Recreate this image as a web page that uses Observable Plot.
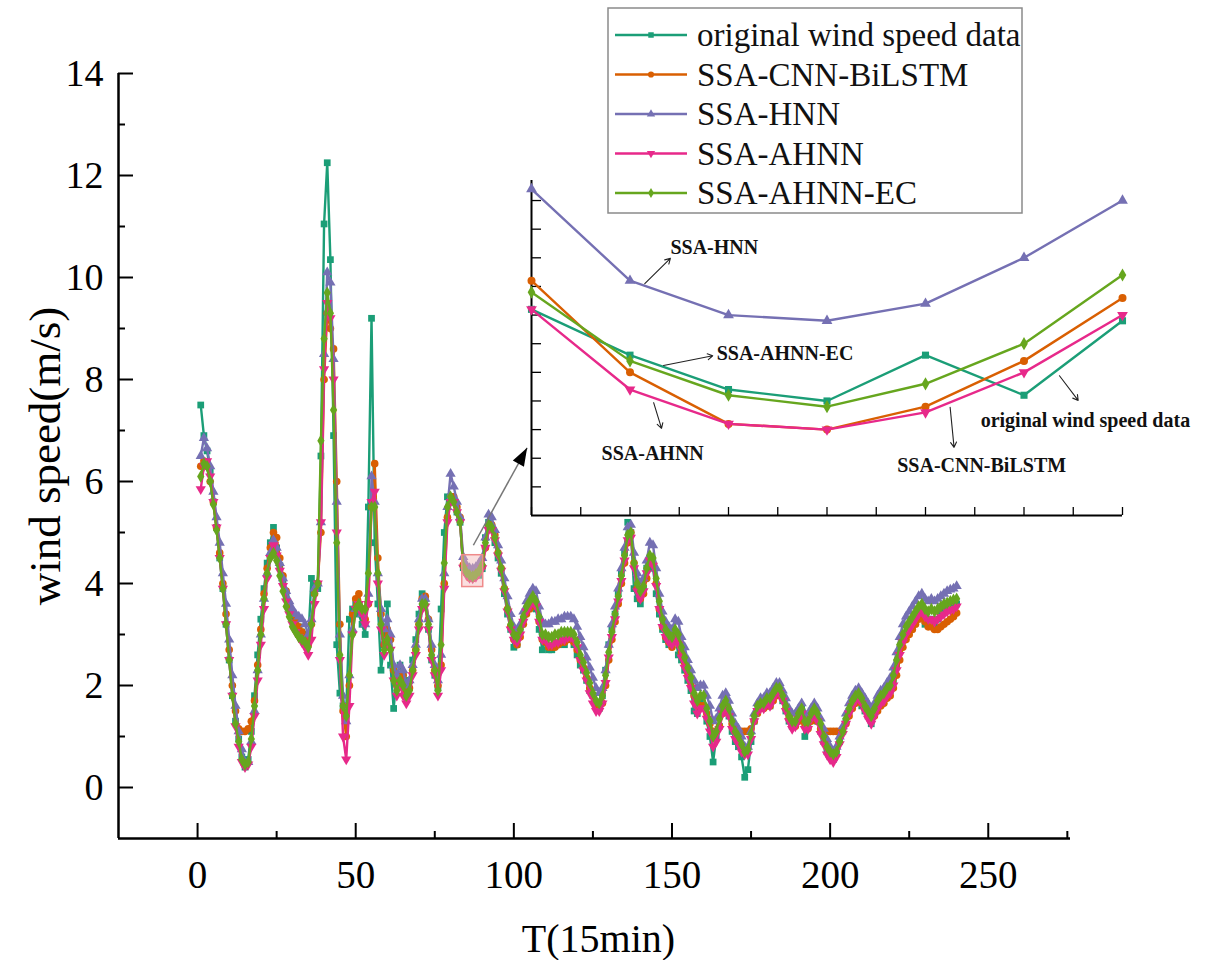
<!DOCTYPE html>
<html><head><meta charset="utf-8">
<script src="https://cdn.jsdelivr.net/npm/d3@7"></script>
<script src="https://cdn.jsdelivr.net/npm/@observablehq/plot@0.6"></script>
<style>
body{margin:0;background:#fff;}
#wrap{position:relative;width:1205px;height:960px;font-family:"Liberation Serif","Times New Roman",serif;}
#main,#inset,#legend{position:absolute;}
#main{left:0;top:0;}
#inset{left:521px;top:170px;}
#legend{left:607px;top:7px;}
</style></head><body>
<div id="wrap"><div id="main"></div><div id="inset"></div><div id="legend"></div></div>
<script>
const T = d3.range(1, 241);
const seriesNames = ["original wind speed data","SSA-CNN-BiLSTM","SSA-HNN","SSA-AHNN","SSA-AHNN-EC"];
const original = [
7.50,6.90,6.60,6.20,5.60,5.10,4.50,3.90,3.20,2.50,
1.80,1.30,0.95,0.60,0.40,0.55,1.10,1.80,2.60,3.30,
3.90,4.40,4.80,5.10,4.70,4.35,4.05,3.75,3.55,3.35,
3.25,3.15,3.05,3.00,2.90,4.10,4.00,3.90,6.50,11.05,
12.25,10.35,6.90,2.80,1.85,1.60,1.50,3.30,3.50,3.60,
3.40,3.20,3.00,5.50,9.20,4.80,3.60,2.30,2.80,3.60,
2.40,1.55,2.20,2.40,2.20,1.90,2.10,2.50,2.90,3.40,
3.80,3.70,3.10,2.50,2.20,1.95,3.50,5.00,5.70,5.70,
5.60,5.40,5.20,4.31,4.23,4.17,4.15,4.23,4.16,4.29,
4.90,5.20,5.10,4.80,4.50,4.20,3.80,3.40,3.10,2.75,
2.80,3.10,3.30,3.50,3.60,3.70,3.50,3.10,2.70,2.90,
2.70,2.70,2.80,2.80,2.90,2.80,2.90,2.90,2.80,2.60,
2.40,2.30,2.10,1.90,1.80,1.60,1.55,1.80,2.30,2.80,
3.10,3.40,3.80,4.20,4.60,5.20,5.00,3.90,3.70,3.60,
3.90,4.30,4.50,4.30,3.80,3.40,3.10,2.90,2.80,2.80,
3.00,2.60,2.50,2.30,2.10,1.90,1.50,1.45,1.70,1.60,
1.30,1.00,0.50,1.00,1.20,1.50,1.60,1.40,1.10,0.90,
0.80,0.60,0.20,0.35,0.90,1.30,1.50,1.60,1.60,1.70,
1.60,1.80,1.95,1.90,1.70,1.50,1.30,1.20,1.30,1.50,
1.55,1.00,1.20,1.50,1.55,1.30,1.10,0.90,0.70,0.60,
0.55,0.70,0.90,1.10,1.30,1.50,1.60,1.70,1.75,1.60,
1.50,1.40,1.25,1.50,1.60,1.70,1.75,1.85,1.90,2.10,
2.40,2.70,2.90,3.00,3.10,3.20,3.30,3.40,3.40,3.20,
3.30,3.30,3.20,3.30,3.40,3.45,3.50,3.50,3.55,3.60];
const cnnBiLSTM = [
6.30,6.40,6.30,6.00,5.60,5.10,4.60,4.00,3.40,2.70,
2.00,1.50,1.15,1.10,1.10,1.15,1.30,1.70,2.40,3.10,
3.80,4.30,4.70,5.00,4.90,4.50,4.15,3.85,3.60,3.40,
3.25,3.15,3.05,2.95,2.80,3.20,3.80,4.00,5.00,8.00,
9.30,9.00,8.60,6.00,3.20,1.50,1.00,2.00,3.40,3.70,
3.80,3.50,3.30,3.60,5.50,6.35,4.50,3.40,2.80,3.10,
2.90,2.30,2.00,2.20,2.20,1.90,1.95,2.30,2.70,3.20,
3.70,3.75,3.30,2.70,2.30,2.00,2.40,4.00,5.30,5.70,
5.70,5.50,5.30,4.36,4.20,4.11,4.10,4.14,4.22,4.33,
4.70,5.10,5.15,4.95,4.60,4.30,3.90,3.50,3.15,2.90,
2.80,2.95,3.20,3.40,3.50,3.60,3.55,3.25,2.90,2.85,
2.75,2.75,2.75,2.80,2.85,2.85,2.90,2.90,2.85,2.70,
2.50,2.35,2.15,1.95,1.80,1.60,1.55,1.65,2.00,2.50,
2.90,3.25,3.60,4.00,4.40,4.80,5.00,4.40,3.90,3.70,
3.80,4.10,4.40,4.40,4.00,3.50,3.15,2.95,2.85,2.75,
2.90,2.85,2.65,2.45,2.25,2.05,1.80,1.60,1.60,1.60,
1.45,1.25,1.10,1.10,1.20,1.45,1.55,1.45,1.25,1.10,
1.10,1.10,1.10,1.10,1.15,1.30,1.45,1.55,1.55,1.60,
1.60,1.70,1.80,1.85,1.75,1.55,1.35,1.20,1.20,1.30,
1.40,1.25,1.15,1.30,1.40,1.30,1.15,1.10,1.10,1.10,
1.10,1.10,1.10,1.15,1.25,1.40,1.55,1.65,1.70,1.65,
1.55,1.45,1.35,1.40,1.50,1.60,1.65,1.75,1.80,1.95,
2.20,2.50,2.75,2.90,3.00,3.10,3.20,3.30,3.35,3.25,
3.15,3.15,3.10,3.10,3.15,3.20,3.25,3.30,3.35,3.42];
const hnn = [
6.50,6.85,6.65,6.30,5.80,5.30,4.80,4.20,3.60,2.90,
2.20,1.60,1.10,0.75,0.50,0.50,0.90,1.50,2.30,3.00,
3.70,4.20,4.60,4.85,4.70,4.40,4.10,3.85,3.65,3.50,
3.40,3.35,3.30,3.20,3.00,3.30,3.90,4.00,5.20,8.50,
10.10,9.90,8.40,5.60,3.00,1.80,1.30,2.20,3.10,3.50,
3.60,3.40,3.20,3.80,6.10,5.60,4.20,3.50,3.10,3.30,
3.00,2.40,2.20,2.40,2.30,2.00,2.10,2.40,2.80,3.30,
3.70,3.70,3.30,2.80,2.40,2.10,2.60,4.20,5.50,6.15,
5.90,5.60,5.30,4.52,4.36,4.30,4.29,4.32,4.40,4.50,
4.90,5.35,5.30,5.05,4.75,4.45,4.10,3.75,3.40,3.15,
3.05,3.20,3.45,3.65,3.80,3.90,3.85,3.55,3.25,3.20,
3.20,3.25,3.25,3.30,3.30,3.35,3.35,3.35,3.30,3.15,
2.95,2.75,2.55,2.35,2.15,1.95,1.85,1.95,2.30,2.80,
3.20,3.55,3.90,4.30,4.70,5.10,5.15,4.60,4.20,4.00,
4.10,4.45,4.80,4.75,4.30,3.80,3.45,3.25,3.15,3.10,
3.30,3.25,2.95,2.75,2.50,2.30,2.10,1.95,2.00,2.00,
1.80,1.60,1.30,1.35,1.55,1.80,1.85,1.70,1.45,1.25,
1.15,1.00,0.80,0.80,1.10,1.45,1.65,1.75,1.75,1.85,
1.85,1.95,2.05,2.05,1.90,1.75,1.55,1.45,1.45,1.55,
1.65,1.45,1.40,1.55,1.65,1.55,1.35,1.15,0.95,0.80,
0.70,0.80,1.00,1.20,1.45,1.65,1.80,1.90,1.95,1.85,
1.75,1.65,1.55,1.65,1.80,1.90,1.95,2.05,2.15,2.35,
2.65,2.95,3.20,3.35,3.45,3.55,3.65,3.75,3.80,3.70,
3.65,3.70,3.65,3.70,3.75,3.80,3.85,3.88,3.90,3.95];
const ahnn = [
5.85,6.30,6.40,6.10,5.60,5.10,4.50,3.90,3.20,2.50,
1.80,1.20,0.80,0.50,0.40,0.45,0.80,1.40,2.10,2.80,
3.50,4.10,4.50,4.75,4.55,4.25,3.95,3.65,3.40,3.20,
3.05,2.95,2.85,2.75,2.60,2.90,3.60,4.00,5.20,8.20,
9.50,9.20,8.00,5.00,2.50,1.00,0.55,1.60,3.00,3.50,
3.60,3.40,3.20,3.60,5.60,5.80,4.00,3.10,2.60,2.90,
2.70,2.10,1.80,2.00,1.80,1.65,1.80,2.20,2.60,3.10,
3.50,3.55,3.10,2.50,2.20,1.80,2.30,3.90,5.20,5.60,
5.60,5.40,5.20,4.31,4.17,4.11,4.10,4.13,4.20,4.30,
4.70,5.05,5.05,4.85,4.55,4.25,3.85,3.45,3.10,2.90,
2.85,3.00,3.25,3.45,3.55,3.65,3.55,3.25,2.90,2.90,
2.80,2.80,2.85,2.85,2.90,2.90,2.95,2.95,2.90,2.75,
2.50,2.30,2.10,1.85,1.65,1.50,1.50,1.65,2.05,2.55,
2.95,3.30,3.65,4.05,4.45,4.85,4.90,4.30,3.85,3.70,
3.85,4.20,4.45,4.35,3.95,3.50,3.15,2.95,2.85,2.80,
2.95,2.80,2.55,2.35,2.15,1.95,1.65,1.45,1.55,1.55,
1.35,1.10,0.80,0.90,1.15,1.45,1.55,1.40,1.15,0.95,
0.85,0.70,0.65,0.65,0.95,1.30,1.50,1.55,1.55,1.65,
1.60,1.75,1.85,1.85,1.70,1.50,1.30,1.15,1.20,1.35,
1.45,1.15,1.15,1.35,1.45,1.30,1.05,0.85,0.65,0.55,
0.50,0.60,0.85,1.05,1.25,1.45,1.60,1.70,1.75,1.65,
1.50,1.35,1.25,1.40,1.55,1.65,1.70,1.80,1.85,2.00,
2.30,2.60,2.85,3.00,3.10,3.20,3.30,3.40,3.45,3.35,
3.30,3.30,3.25,3.30,3.35,3.40,3.45,3.48,3.50,3.55];
const ahnnEC = [
6.10,6.35,6.30,6.00,5.55,5.05,4.50,3.90,3.20,2.50,
1.80,1.25,0.90,0.55,0.45,0.50,0.95,1.60,2.30,3.00,
3.70,4.20,4.50,4.60,4.45,4.15,3.85,3.55,3.35,3.15,
3.05,2.95,2.90,2.85,2.75,3.20,3.80,4.00,6.80,8.80,
9.70,9.30,7.40,4.80,2.60,1.60,1.40,2.20,3.00,3.50,
3.60,3.50,3.50,4.20,5.50,5.50,4.20,3.20,2.70,2.90,
2.70,2.10,1.90,2.10,2.00,1.80,1.90,2.30,2.70,3.20,
3.60,3.60,3.20,2.60,2.30,1.90,2.80,4.40,5.50,5.70,
5.60,5.40,5.20,4.34,4.22,4.16,4.14,4.18,4.25,4.37,
4.80,5.15,5.10,4.90,4.60,4.30,3.90,3.50,3.20,3.00,
2.95,3.10,3.35,3.55,3.65,3.75,3.65,3.35,3.00,3.00,
2.95,2.95,3.00,3.00,3.05,3.05,3.05,3.05,3.00,2.85,
2.60,2.45,2.25,2.05,1.85,1.70,1.65,1.80,2.20,2.65,
3.05,3.40,3.75,4.15,4.55,4.95,5.00,4.40,4.00,3.85,
3.95,4.30,4.55,4.50,4.10,3.65,3.30,3.10,3.00,2.95,
3.10,3.00,2.75,2.55,2.35,2.15,1.85,1.70,1.80,1.80,
1.55,1.30,1.00,1.10,1.35,1.60,1.70,1.55,1.30,1.10,
1.00,0.85,0.70,0.75,1.05,1.40,1.60,1.65,1.65,1.75,
1.75,1.85,1.95,1.95,1.80,1.60,1.40,1.30,1.30,1.45,
1.55,1.30,1.30,1.45,1.55,1.45,1.25,1.00,0.80,0.70,
0.65,0.70,0.90,1.10,1.35,1.55,1.70,1.80,1.85,1.75,
1.60,1.50,1.40,1.55,1.70,1.80,1.85,1.95,2.00,2.20,
2.50,2.80,3.00,3.15,3.25,3.35,3.45,3.55,3.60,3.50,
3.45,3.50,3.45,3.50,3.55,3.60,3.62,3.65,3.68,3.70];
const seriesValues = [original, cnnBiLSTM, hnn, ahnn, ahnnEC];
const colors = ["#1b9e77","#d95f02","#7570b3","#e7298a","#66a61e"];
const symbols = ["square","circle","triangle","triangle","diamond"];
const rotations = [0,0,0,180,0];

const xMajor = [0,50,100,150,200,250];
const xMinor = [25,75,125,175,225,275];
const yMajor = [0,2,4,6,8,10,12,14];
const yMinor = [1,3,5,7,9,11,13];
const zoomBox = [{x1:84, x2:90, y1:3.95, y2:4.535}];
const pointer = [{x1:87.2, y1:4.75, x2:104.2, y2:6.66}];

const insetXTicks = [84,84.5,85,85.5,86,86.5,87,87.5,88,88.5,89,89.5,90];
const insetYTicks = [4.00,4.05,4.10,4.15,4.20,4.25,4.30,4.35,4.40,4.45,4.50];
const notes = [
  {label:"SSA-HNN", ax1:85.15, ay1:4.355, ax2:85.41, ay2:4.399, tx:85.41, ty:4.418, anchor:"start"},
  {label:"SSA-AHNN-EC", ax1:85.34, ay1:4.212, ax2:85.84, ay2:4.229, tx:85.88, ty:4.233, anchor:"start"},
  {label:"SSA-AHNN", ax1:85.24, ay1:4.147, ax2:85.32, ay2:4.102, tx:85.23, ty:4.058, anchor:"middle"},
  {label:"SSA-CNN-BiLSTM", ax1:88.25, ay1:4.139, ax2:88.29, ay2:4.069, tx:88.57, ty:4.037, anchor:"middle"},
  {label:"original wind speed data", ax1:89.36, ay1:4.194, ax2:89.55, ay2:4.151, tx:88.56, ty:4.116, anchor:"start"}
];

const rows = seriesNames.map((s, k) => T.map((t, i) => ({T: t, v: seriesValues[k][i], series: s})));
const FONT = "'Liberation Serif', 'Times New Roman', serif";

// elongated arrowhead with its tip at the anchor point (pointing up before rotation)
const arrowHead = {draw(context, size) {
  const s = Math.sqrt(size);
  context.moveTo(0, 0);
  context.lineTo(0.6 * s, 1.7 * s);
  context.lineTo(-0.6 * s, 1.7 * s);
  context.closePath();
}};

// main chart
const W = 1205, H = 960, mL = 118, mR = 135, mT = 73, mB = 122;
const innerW = W - mL - mR, innerH = H - mT - mB;
const seriesMarks = rows.flatMap((r, k) => [
  Plot.line(r, {x: "T", y: "v", stroke: colors[k], strokeWidth: 2.4}),
  Plot.dot(r, {x: "T", y: "v", fill: colors[k], symbol: symbols[k], r: 3.8, rotate: rotations[k]})
]);
const main = Plot.plot({
  width: W, height: H, marginLeft: mL, marginRight: mR, marginTop: mT, marginBottom: mB,
  x: {domain: [-25, 276]}, y: {domain: [-1, 14]},
  style: {fontFamily: FONT, background: "transparent", color: "#000"},
  marks: [
    Plot.axisX({ticks: xMajor, tickSize: 0, tickPadding: 22, fontSize: 39, label: null}),
    Plot.axisY({ticks: yMajor, tickSize: 0, tickPadding: 15, fontSize: 38, label: null}),
    Plot.ruleX(xMajor, {strokeWidth: 2, insetTop: innerH - 15}),
    Plot.ruleX(xMinor, {strokeWidth: 2, insetTop: innerH - 7}),
    Plot.ruleY(yMajor, {strokeWidth: 2, insetRight: innerW - 15}),
    Plot.ruleY(yMinor, {strokeWidth: 2, insetRight: innerW - 7}),
    ...seriesMarks,
    Plot.rect(zoomBox, {x1: "x1", x2: "x2", y1: "y1", y2: "y2", fill: "#f4b8b8", fillOpacity: 0.45, stroke: "#ef8a8a", strokeWidth: 1.5, inset: -1}),
    Plot.link(pointer, {x1: "x1", y1: "y1", x2: "x2", y2: "y2", stroke: "#777", strokeWidth: 1.5}),
    Plot.dot(pointer, {x: "x2", y: "y2", symbol: arrowHead, r: 6, fill: "#000", stroke: "none", rotate: 29}),
    Plot.ruleX([-25], {strokeWidth: 2.5}),
    Plot.ruleY([-1], {strokeWidth: 2.5}),
    Plot.text(["wind speed(m/s)"], {text: d => d, frameAnchor: "left", dx: -73, rotate: -90, fontSize: 45, textAnchor: "middle", lineAnchor: "middle"}),
    Plot.text(["T(15min)"], {text: d => d, frameAnchor: "bottom", dx: 4, dy: 101, fontSize: 40, textAnchor: "middle", lineAnchor: "middle"})
  ]
});
document.getElementById("main").append(main);

// inset
const iW = 611, iH = 355, iM = 10;
const iInnerW = iW - 2 * iM, iInnerH = iH - 2 * iM;
const insetRows = rows.map(r => r.filter(d => d.T >= 84 && d.T <= 90));
const insetSeries = insetRows.flatMap((r, k) => [
  Plot.line(r, {x: "T", y: "v", stroke: colors[k], strokeWidth: 2.4}),
  Plot.dot(r, {x: "T", y: "v", fill: colors[k], symbol: symbols[k], r: 4, rotate: rotations[k]})
]);
const inset = Plot.plot({
  width: iW, height: iH, margin: iM,
  x: {domain: [84, 90], axis: null}, y: {domain: [3.95, 4.535], axis: null},
  style: {fontFamily: FONT, background: "transparent", color: "#000", overflow: "visible"},
  marks: [
    Plot.ruleX([84], {strokeWidth: 2}),
    Plot.ruleY([3.95], {strokeWidth: 2}),
    Plot.ruleX(insetXTicks, {strokeWidth: 1.3, insetTop: iInnerH - 8}),
    Plot.ruleY(insetYTicks, {strokeWidth: 1.3, insetRight: iInnerW - 10}),
    ...insetSeries,
    Plot.arrow(notes, {x1: "ax1", y1: "ay1", x2: "ax2", y2: "ay2", stroke: "#222", strokeWidth: 1.1, headLength: 8}),
    Plot.text(notes.filter(d => d.anchor === "start"), {x: "tx", y: "ty", text: "label", textAnchor: "start", fontSize: 20, fontWeight: "bold", fill: "#111"}),
    Plot.text(notes.filter(d => d.anchor === "middle"), {x: "tx", y: "ty", text: "label", textAnchor: "middle", fontSize: 20, fontWeight: "bold", fill: "#111"})
  ]
});
document.getElementById("inset").append(inset);

// legend
const symTypes = {square: d3.symbolSquare, circle: d3.symbolCircle, triangle: d3.symbolTriangle, diamond: d3.symbolDiamond};
const leg = d3.create("svg").attr("width", 418).attr("height", 210).style("font-family", FONT);
leg.append("rect").attr("x", 1).attr("y", 1).attr("width", 414).attr("height", 205)
  .attr("fill", "#fff").attr("stroke", "#8a8a8a").attr("stroke-width", 1.5);
seriesNames.forEach((s, k) => {
  const cy = 28 + 39.5 * k;
  leg.append("line").attr("x1", 8).attr("x2", 80).attr("y1", cy).attr("y2", cy)
    .attr("stroke", colors[k]).attr("stroke-width", 2.5);
  leg.append("path").attr("d", d3.symbol().type(symTypes[symbols[k]]).size(30)())
    .attr("transform", `translate(44,${cy}) rotate(${rotations[k]})`).attr("fill", colors[k]);
  leg.append("text").attr("x", 90).attr("y", cy).attr("dy", "0.34em")
    .attr("font-size", 33).attr("fill", "#111").text(s);
});
document.getElementById("legend").append(leg.node());
</script>
</body></html>
